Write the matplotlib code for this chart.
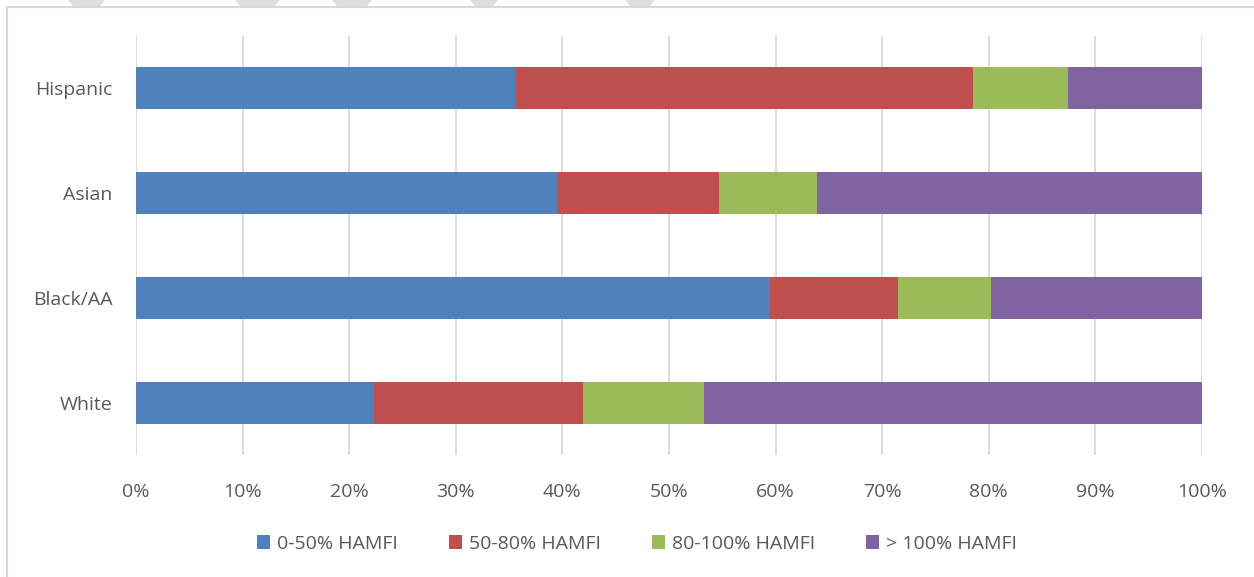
import matplotlib.pyplot as plt
from matplotlib.patches import Rectangle, Polygon
import numpy as np

groups = ['White', 'Black/AA', 'Asian', 'Hispanic']
series = ['0-50% HAMFI', '50-80% HAMFI', '80-100% HAMFI', '> 100% HAMFI']
# share of households in each income band (%), bottom to top
band_0_50 = [22.3, 59.5, 39.5, 35.6]
band_50_80 = [19.6, 12.0, 15.2, 42.9]
band_80_100 = [11.4, 8.7, 9.2, 8.9]
band_over_100 = [46.7, 19.8, 36.1, 12.6]
colors = ['#4f81bd', '#c0504d', '#9bbb59', '#8064a2']

plt.rcParams['font.family'] = ['Open Sans', 'DejaVu Sans']
text_color = '#595959'

fig = plt.figure(figsize=(12.54, 5.77), dpi=100)
ax = fig.add_axes([136/1254, 1 - 455/577, 1066/1254, 419/577])

y = np.arange(len(groups))
left = np.zeros(len(groups))
for vals, name, c in zip([band_0_50, band_50_80, band_80_100, band_over_100], series, colors):
    ax.barh(y, vals, height=0.4, left=left, color=c, label=name, zorder=3)
    left += np.array(vals)

ax.set_xlim(0, 100)
ax.set_ylim(-0.5, 3.5)
ax.set_xticks(np.arange(0, 101, 10))
ax.set_xticklabels([f'{v}%' for v in range(0, 101, 10)])
ax.set_yticks(y)
ax.set_yticklabels(groups)
ax.grid(axis='x', color='#d9d9d9', linewidth=1.3, zorder=0)
ax.tick_params(length=0, labelsize=14, labelcolor=text_color)
ax.tick_params(axis='x', pad=20)
ax.tick_params(axis='y', pad=17)
for s in ax.spines.values():
    s.set_visible(False)

fig.legend(loc='center', bbox_to_anchor=(637/1254, 1 - 544/577), ncol=4,
           frameon=False, fontsize=14, labelcolor=text_color,
           handlelength=0.7, handleheight=0.7, handletextpad=0.35,
           columnspacing=2.6)

# outer frame of the chart area
fig.patches.append(Rectangle((7/1254, -0.05), 1.1, 1 - 7/577 + 0.05,
                             transform=fig.transFigure, fill=False,
                             edgecolor='#d9d9d9', linewidth=1.5))
# light grey tabs along the top edge
for x0, x1 in [(68, 105), (235, 280), (332, 372), (470, 498), (625, 655)]:
    pts = [(x0, 0), (x1, 0), (x1 - 5, 6), (x0 + 5, 6)]
    fig.patches.append(Polygon([(px/1254, 1 - py/577) for px, py in pts],
                               closed=True, transform=fig.transFigure,
                               facecolor='#dedede', edgecolor='none'))

fig.savefig('out.png', dpi=100)
